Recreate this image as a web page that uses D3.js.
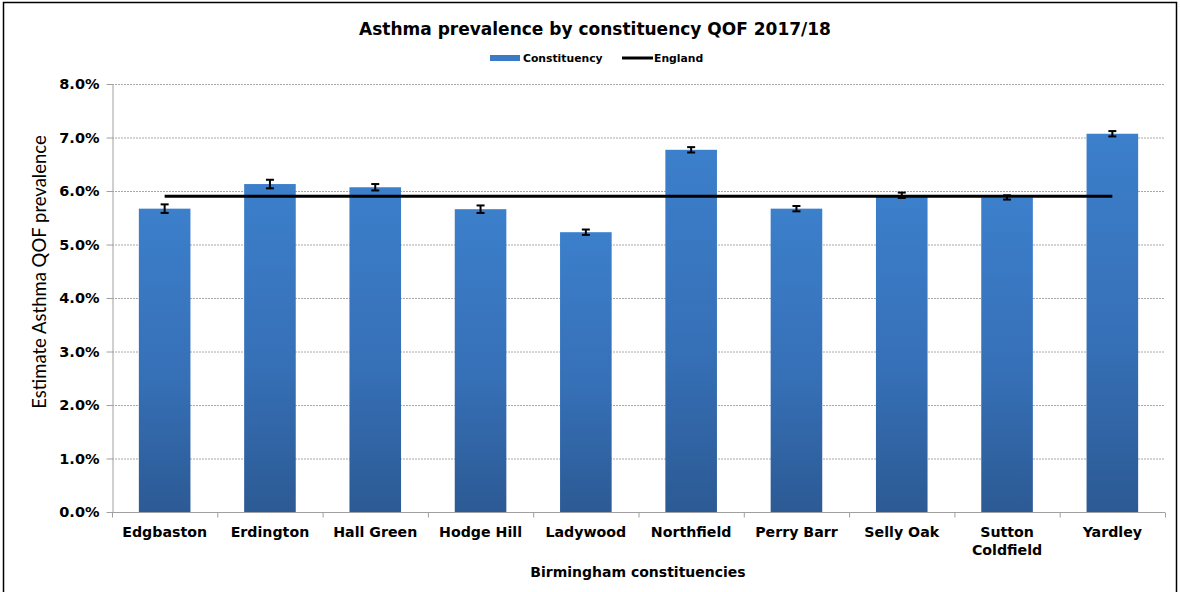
<!DOCTYPE html>
<html><head><meta charset="utf-8">
<script src="https://cdn.jsdelivr.net/npm/d3@7"></script>
<style>body{margin:0;background:#fff}svg{display:block}</style>
</head><body>
<svg id="c" width="1180" height="592"></svg>
<script>
const categories = ["Edgbaston","Erdington","Hall Green","Hodge Hill","Ladywood","Northfield","Perry Barr","Selly Oak","Sutton Coldfield","Yardley"];
const values = [5.67,6.13,6.07,5.66,5.23,6.77,5.67,5.92,5.88,7.07];
const errors = [0.08,0.08,0.06,0.07,0.05,0.05,0.05,0.05,0.04,0.05];
const englandValue = 5.9;
const yTicks = [0,1,2,3,4,5,6,7,8];

const svg = d3.select("#c");
const W=1180,H=592;
const m={l:112,r:15,t:84,b:80};
const x=d3.scaleBand().domain(categories).range([m.l,W-m.r]).paddingInner(0.51).paddingOuter(0.255);
const y=d3.scaleLinear().domain([0,8]).range([H-m.b,m.t]);
const fontB="'DejaVu Sans', Verdana, sans-serif";

svg.append("rect").attr("x",3.5).attr("y",2.5).attr("width",1173).attr("height",600).attr("fill","none").attr("stroke","#000").attr("stroke-width",1.5);

const defs=svg.append("defs");
const g=defs.append("linearGradient").attr("id","bg").attr("x1",0).attr("y1",0).attr("x2",0).attr("y2",1);
g.append("stop").attr("offset","0%").attr("stop-color","#3c7fcb");
g.append("stop").attr("offset","55%").attr("stop-color","#3670b7");
g.append("stop").attr("offset","100%").attr("stop-color","#2c5a94");

// grid
svg.append("g").selectAll("line").data(yTicks.filter(d=>d>0)).join("line")
 .attr("x1",m.l).attr("x2",W-m.r).attr("y1",d=>y(d)+0.5).attr("y2",d=>y(d)+0.5)
 .attr("stroke","#a8a8a8").attr("stroke-dasharray","2,1").attr("stroke-width",1);

// y axis
const ya=svg.append("g").attr("transform",`translate(${m.l+0.5},0)`)
 .call(d3.axisLeft(y).tickValues(yTicks).tickFormat(d=>d.toFixed(1)+"%").tickSize(6).tickSizeOuter(0));
ya.select(".domain").attr("stroke","#a0a0a0");
ya.selectAll(".tick line").attr("stroke","#a0a0a0");
ya.selectAll("text").attr("font-family",fontB).attr("font-weight","bold").attr("font-size",14.5).attr("fill","#000").attr("dx",-4);

// bars
svg.append("g").selectAll("rect").data(categories).join("rect")
 .attr("x",d=>x(d)).attr("width",x.bandwidth())
 .attr("y",(d,i)=>y(values[i])).attr("height",(d,i)=>y(0)-y(values[i]))
 .attr("fill","url(#bg)");

// x axis
const step=x.step();
const xa=svg.append("g").attr("transform",`translate(0,${y(0)+0.5})`);
xa.append("line").attr("x1",m.l).attr("x2",W-m.r).attr("stroke","#a0a0a0");
xa.selectAll(".tk").data(d3.range(categories.length+1)).join("line")
 .attr("x1",i=>m.l+i*step+0.5).attr("x2",i=>m.l+i*step+0.5).attr("y1",0).attr("y2",5).attr("stroke","#a0a0a0");
const lab=xa.selectAll(".lb").data(categories).join("text")
 .attr("x",d=>x(d)+x.bandwidth()/2).attr("y",24)
 .attr("text-anchor","middle").attr("font-family",fontB).attr("font-weight","bold").attr("font-size",14.2).attr("fill","#000");
lab.each(function(d){
  const parts=d==="Sutton Coldfield"?["Sutton","Coldfield"]:[d];
  const t=d3.select(this);
  parts.forEach((p,i)=>t.append("tspan").attr("x",x(d)+x.bandwidth()/2).attr("dy",i?18:0).text(p));
});

// England line
svg.append("line").attr("x1",x(categories[0])+x.bandwidth()/2).attr("x2",x(categories[categories.length-1])+x.bandwidth()/2)
 .attr("y1",y(englandValue)).attr("y2",y(englandValue)).attr("stroke","#000").attr("stroke-width",3);

// error bars
const eb=svg.append("g").attr("stroke","#000").attr("stroke-width",2);
categories.forEach((c,i)=>{
  const cx=x(c)+x.bandwidth()/2;
  const y1=y(values[i]+errors[i]), y2=y(values[i]-errors[i]);
  eb.append("line").attr("x1",cx).attr("x2",cx).attr("y1",y1).attr("y2",y2);
  eb.append("line").attr("x1",cx-4).attr("x2",cx+4).attr("y1",y1).attr("y2",y1);
  eb.append("line").attr("x1",cx-4).attr("x2",cx+4).attr("y1",y2).attr("y2",y2);
});

// title
svg.append("text").attr("x",595).attr("y",35).attr("text-anchor","middle").attr("font-family",fontB)
 .attr("font-weight","bold").attr("font-size",17).text("Asthma prevalence by constituency QOF 2017/18");

// legend
svg.append("rect").attr("x",490).attr("y",55).attr("width",30).attr("height",6).attr("fill","#3a7bc6");
svg.append("text").attr("x",523).attr("y",62).attr("font-family",fontB).attr("font-weight","bold").attr("font-size",10.8).text("Constituency");
svg.append("line").attr("x1",622).attr("x2",653).attr("y1",58).attr("y2",58).attr("stroke","#000").attr("stroke-width",3);
svg.append("text").attr("x",654).attr("y",62).attr("font-family",fontB).attr("font-weight","bold").attr("font-size",10.8).text("England");

// axis titles
svg.append("text").attr("x",638).attr("y",577).attr("text-anchor","middle").attr("font-family",fontB)
 .attr("font-weight","bold").attr("font-size",14).text("Birmingham constituencies");
svg.append("text").attr("transform","translate(46,272) rotate(-90)").attr("text-anchor","middle")
 .attr("font-family","Lato, 'Liberation Sans', sans-serif").attr("font-size",18.5)
 .text("Estimate Asthma  QOF prevalence");
</script>
</body></html>
